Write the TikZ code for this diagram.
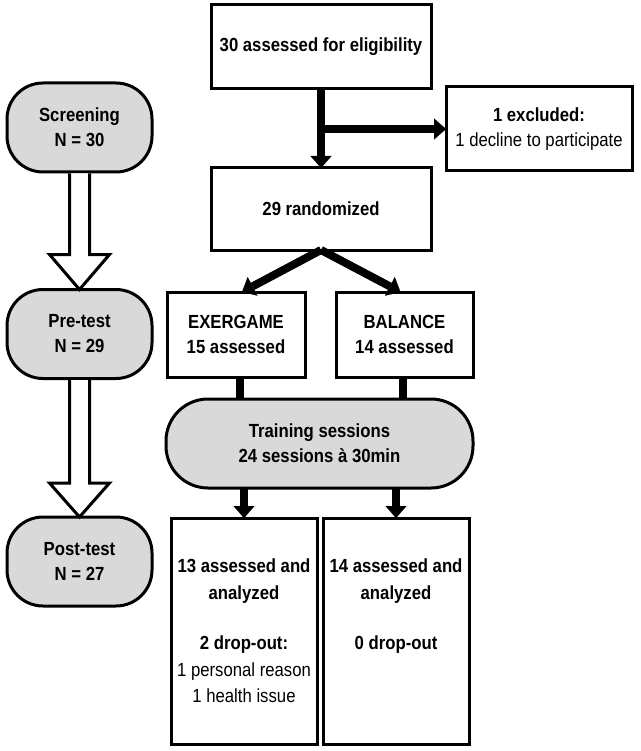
\documentclass[tikz,border=0pt]{standalone}
\usepackage{fontspec}
\setmainfont{Liberation Sans}[FakeStretch=0.88]
\usepackage{tikz}
\usetikzlibrary{positioning, arrows.meta, calc}
\definecolor{phasegray}{RGB}{217,217,217}

\begin{document}
\begin{tikzpicture}[
    x=1pt, y=1pt,
    box/.style={
        draw,
        line width=3pt,
        align=center,
        inner sep=0pt,
        outer sep=0pt,
        font=\fontsize{19}{25}\selectfont\bfseries
    },
    phase/.style={box, fill=phasegray, rounded corners=36pt,
        minimum width=145pt, minimum height=89pt},
    thickline/.style={line width=8pt},
    thickarrow/.style={line width=8pt,
        -{Triangle[length=12pt, width=21pt, line width=0.1pt]}},
    hollow/.style={line width=3pt, fill=white, line join=miter}
]
\useasboundingbox (0,0) rectangle (640,-751);

% ======================
% Study phases (left)
% ======================
\node[phase] (screen) at (79.5,-127.5) {Screening\\N = 30};
\node[phase, below=117.5pt of screen] (pre) {Pre-test\\N = 29};
\node[phase, below=138.5pt of pre] (post) {Post-test\\N = 27};

\draw[hollow] ([xshift=-10, yshift=-1.5]screen.south)
    -- ([xshift=-10, yshift=35]pre.north) -- ([xshift=-30, yshift=35]pre.north)
    -- (pre.north)
    -- ([xshift=30, yshift=35]pre.north) -- ([xshift=10, yshift=35]pre.north)
    -- ([xshift=10, yshift=-1.5]screen.south);
\draw[hollow] ([xshift=-10, yshift=-1.5]pre.south)
    -- ([xshift=-10, yshift=34]post.north) -- ([xshift=-30, yshift=34]post.north)
    -- (post.north)
    -- ([xshift=30, yshift=34]post.north) -- ([xshift=10, yshift=34]post.north)
    -- ([xshift=10, yshift=-1.5]pre.south);

% ======================
% Enrolment
% ======================
\node[box, minimum width=220pt, minimum height=84pt] (elig) at (321,-47) {30 assessed for eligibility};
\node[box, minimum width=186pt, minimum height=84pt] (excl) at (539,-129)
    {1 excluded:\\\mdseries 1 decline to participate};
\node[box, minimum width=220pt, minimum height=82pt, below=79pt of elig] (rand) {29 randomized};

\coordinate (branch) at (elig.south |- excl.west);
\draw[thickarrow] (elig.south) -- (rand.north);
\draw[thickarrow] (branch) -- (excl.west);

% ======================
% Groups
% ======================
\node[box, minimum width=138pt, minimum height=85pt] (exer) at (236,-334.5) {EXERGAME\\15 assessed};
\node[box, minimum width=137pt, minimum height=85pt] (bal) at (404.5,-334.5) {BALANCE\\14 assessed};

\draw[thickarrow] (rand.south) -- ([xshift=6]exer.north);
\draw[thickarrow] (rand.south) -- ([xshift=-4]bal.north);

\node[box, fill=phasegray, rounded corners=42pt, minimum width=307pt, minimum height=89pt]
    (train) at (319.5,-443.5) {Training sessions\\24 sessions à 30min};

\draw[thickline] ([xshift=4]exer.south) -- ([xshift=4]exer.south |- train.north);
\draw[thickline] ([xshift=-2]bal.south) -- ([xshift=-2]bal.south |- train.north);

% ======================
% Analysis
% ======================
\node[box, minimum width=146pt, minimum height=226pt, font=\fontsize{19}{26.5}\selectfont\bfseries]
    (out1) at (244,-631) {13 assessed and\\analyzed\\[24pt]2 drop-out:\\\mdseries 1 personal reason\\\mdseries 1 health issue};
\node[box, minimum width=146pt, minimum height=226pt, font=\fontsize{19}{26.5}\selectfont\bfseries]
    (out2) at (396,-631) {14 assessed and\\analyzed\\[24pt]0 drop-out\\~\\~};

\draw[thickarrow] (out1.north |- train.south) -- (out1.north);
\draw[thickarrow] (out2.north |- train.south) -- (out2.north);

\end{tikzpicture}
\end{document}
